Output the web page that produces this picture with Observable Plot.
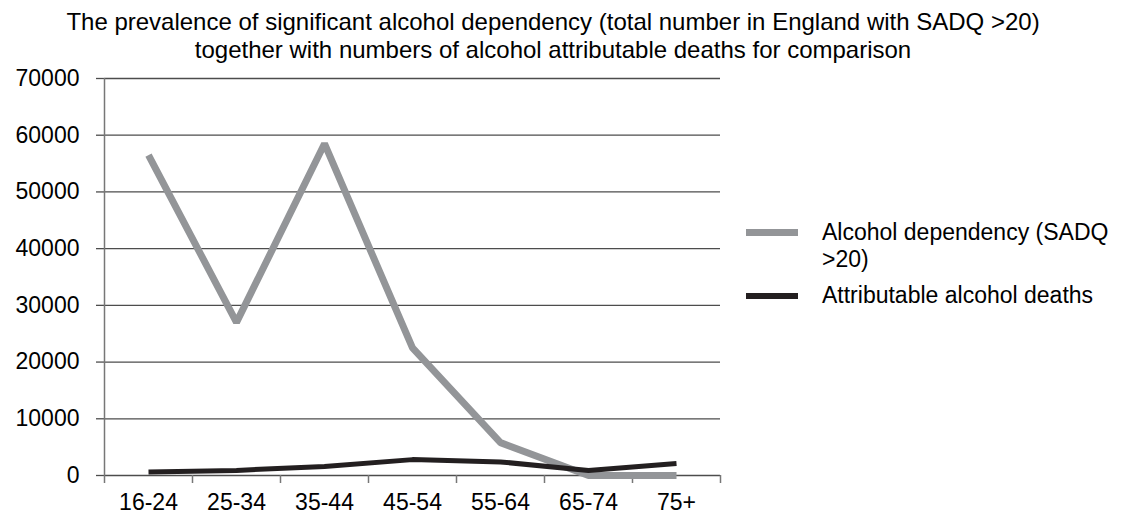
<!DOCTYPE html>
<html><head><meta charset="utf-8">
<script src="https://cdn.jsdelivr.net/npm/d3@7"></script>
<script src="https://cdn.jsdelivr.net/npm/@observablehq/plot@0.6"></script>
<style>
body{margin:0;background:#fff;font-family:"Liberation Sans",Arial,sans-serif;}
#wrap{position:relative;width:1121px;height:519px;overflow:hidden;background:#fff}
#title{position:absolute;left:0;top:8px;width:1106px;text-align:center;font-size:24px;line-height:28px;color:#000;white-space:nowrap}
#chart{position:absolute;left:0;top:70px}
.sw{position:absolute;left:746px;width:52px}
.lt{position:absolute;left:822px;font-size:23px;line-height:27px;color:#000;width:300px;white-space:nowrap}
</style></head>
<body>
<div id="wrap">
  <div id="title">The prevalence of significant alcohol dependency (total number in England with SADQ &gt;20)<br>together with numbers of alcohol attributable deaths for comparison</div>
  <div id="chart"></div>
  <div class="sw" style="top:229px;height:7px;background:#939598"></div>
  <div class="lt" style="top:219px">Alcohol dependency (SADQ<br>&gt;20)</div>
  <div class="sw" style="top:293px;height:6px;background:#231f20"></div>
  <div class="lt" style="top:282px">Attributable alcohol deaths</div>
</div>
<script>
const categories = ["16-24", "25-34", "35-44", "45-54", "55-64", "65-74", "75+"];
const dependency = [56500, 27000, 58500, 22500, 5800, 0, 0];
const deaths = [600, 900, 1600, 2800, 2400, 900, 2100];
const yTicks = [0, 10000, 20000, 30000, 40000, 50000, 60000, 70000];

const idx = categories.map((c, i) => i);
const bounds = idx.map(i => i - 0.5).concat([categories.length - 0.5]);

const chart = Plot.plot({
  width: 1121, height: 449,
  marginTop: 8, marginBottom: 44, marginLeft: 104, marginRight: 401,
  style: {fontFamily: "'Liberation Sans', Arial, sans-serif", fontSize: "23px", color: "#000", background: "#fff", overflow: "visible"},
  x: {type: "linear", domain: [-0.5, categories.length - 0.5], label: null},
  y: {domain: [0, 70000], label: null},
  marks: [
    Plot.gridY(yTicks, {stroke: "#4d4d4d", strokeOpacity: 1, strokeWidth: 1.3}),
    Plot.axisY(yTicks, {tickSize: 8, tickPadding: 17, stroke: "#4d4d4d", strokeWidth: 1.3, tickFormat: d3.format("d"), label: null, fill: "#000"}),
    Plot.ruleX([bounds[0]], {stroke: "#777", strokeWidth: 1.5}),
    Plot.axisX(bounds, {tickSize: 8, tickFormat: () => "", stroke: "#777", strokeWidth: 1.5, label: null}),
    Plot.axisX(idx, {tickSize: 0, tickPadding: 18, tickFormat: i => categories[i], label: null, fill: "#000"}),
    Plot.lineY(dependency, {x: (d, i) => i, y: d => d, stroke: "#939598", strokeWidth: 7, strokeLinejoin: "miter", strokeLinecap: "butt"}),
    Plot.lineY(deaths, {x: (d, i) => i, y: d => d, stroke: "#231f20", strokeWidth: 5, strokeLinejoin: "miter", strokeLinecap: "butt"})
  ]
});
document.getElementById("chart").appendChild(chart);
</script>
</body></html>
